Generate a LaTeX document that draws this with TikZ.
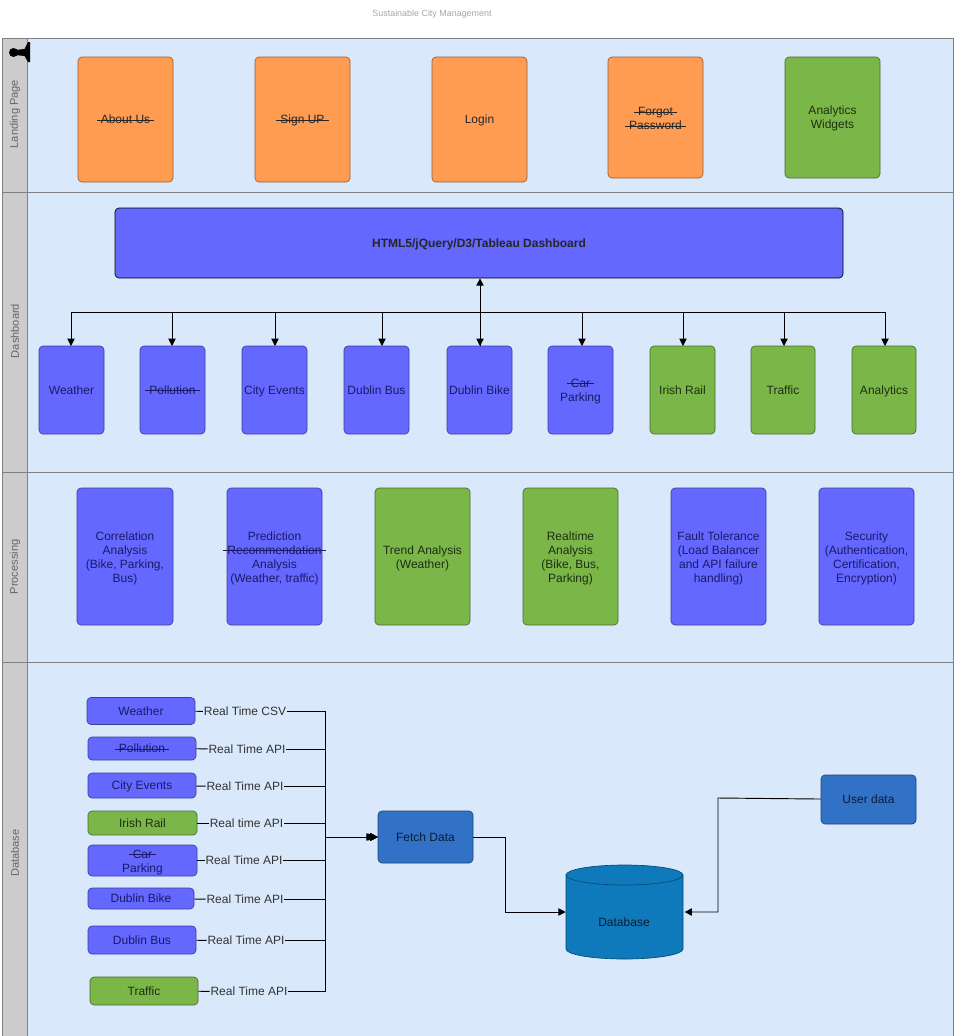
\documentclass[tikz,border=0pt]{standalone}
\usepackage{fontspec}
\setmainfont{Liberation Sans}
\usetikzlibrary{arrows.meta}

\definecolor{lanefill}{HTML}{DAE8FC}
\definecolor{headfill}{HTML}{CCCCCC}
\definecolor{laneline}{HTML}{7F8084}
\definecolor{orangebox}{HTML}{FF9C52}
\definecolor{greenbox}{HTML}{7AB648}
\definecolor{violetbox}{HTML}{6468FF}
\definecolor{bluebox}{HTML}{3172C6}
\definecolor{dbblue}{HTML}{0F7ABB}
\definecolor{violettext}{HTML}{1A1A66}
\definecolor{greentext}{HTML}{1F2E12}
\definecolor{bluetext}{HTML}{0C1D32}

\newsavebox{\strikebox}
\newcommand{\struck}[1]{\sbox{\strikebox}{#1}\rlap{\kern-3pt\rule[2.6pt]{\dimexpr\wd\strikebox+6pt\relax}{0.6pt}}\usebox{\strikebox}}
\newcommand{\lowered}{\rule{0pt}{9.6pt}}
\newcommand{\loweredless}{\rule{0pt}{8.1pt}}

\tikzset{
  card/.style={draw=#1!60!black, rounded corners=3pt, align=center, font=\fontsize{9}{10.5}\selectfont, inner sep=0pt, line width=0.5pt},
  orangecard/.style={card=orangebox, fill=orangebox, text=black!85},
  greencard/.style={card=greenbox, fill=greenbox, text=greentext},
  violetcard/.style={card=violetbox, fill=violetbox, text=violettext},
  bluecard/.style={card=bluebox, fill=bluebox, text=bluetext},
  oneline/.style={text height=6.5pt, text depth=0pt},
  feed/.style={oneline, font=\fontsize{9}{10.5}\selectfont, text=black!80, inner sep=0.5pt},
  lanehead/.style={rotate=90, font=\fontsize{8.3}{10}\selectfont, text=black!60},
  link/.style={draw=black, line width=0.7pt, -{Triangle[length=5.5pt,width=5.5pt]}},
  plain/.style={draw=black, line width=0.7pt}
}

\begin{document}
\begin{tikzpicture}[x=0.75pt, y=-0.75pt]

\useasboundingbox (0,0) rectangle (954,1036);

% swimlanes
\draw[laneline, fill=lanefill, line width=0.7pt] (2,38) rectangle (953,1040);
\draw[laneline, fill=headfill, line width=0.7pt] (2,38) rectangle (27,1040);
\draw[laneline, line width=0.7pt] (2,192) -- (953,192);
\draw[laneline, line width=0.7pt] (2,472) -- (953,472);
\draw[laneline, line width=0.7pt] (2,662) -- (953,662);

\node[font=\fontsize{6.7}{8}\selectfont, text=black!35] at (432,14) (title) {Sustainable City Management};
\node[lanehead] at (15,114) (lane1) {Landing Page};
\node[lanehead] at (15,331) (lane2) {Dashboard};
\node[lanehead] at (15,567) (lane3) {Processing};
\node[lanehead] at (15,853) (lane4) {Database};

% the pin on the first lane
\fill[black] (13.5,52.5) ellipse (4.5 and 4.5);
\fill[black] (30,42) -- (30,62) -- (28,62) -- (24.5,56) -- (15,55) -- (15,50) -- (24.5,49) -- (28,42) -- cycle;

% landing page
\node[orangecard, oneline, minimum width=71.25pt, minimum height=93.75pt] at (125.5,119.5) (about) {\struck{About Us}};
\node[orangecard, oneline, minimum width=71.25pt, minimum height=93.75pt] at (302.5,119.5) (signup) {\struck{Sign UP}};
\node[orangecard, oneline, minimum width=71.25pt, minimum height=93.75pt] at (479.5,119.5) (login) {Login};
\node[orangecard, minimum width=71.25pt, minimum height=90.75pt] at (655.5,117.5) (forgot) {\loweredless\struck{Forgot}\\\struck{Password}};
\node[greencard, minimum width=71.25pt, minimum height=90.75pt] at (832.5,117.5) (widgets) {\loweredless Analytics\\Widgets};

% dashboard
\node[card=black, oneline, fill=violetbox, draw=black, text=black!85, minimum width=546pt, minimum height=52.5pt, font=\fontsize{9}{10.5}\selectfont\bfseries] at (479,243) (dash) {HTML5/jQuery/D3/Tableau Dashboard};

\node[violetcard, oneline, minimum width=48.75pt, minimum height=66pt] at (71.5,390) (dweather) {Weather};
\node[violetcard, oneline, minimum width=48.75pt, minimum height=66pt] at (172.5,390) (dpollution) {\struck{Pollution}};
\node[violetcard, oneline, minimum width=48.75pt, minimum height=66pt] at (274.5,390) (devents) {City Events};
\node[violetcard, oneline, minimum width=48.75pt, minimum height=66pt] at (376.5,390) (dbus) {Dublin Bus};
\node[violetcard, oneline, minimum width=48.75pt, minimum height=66pt] at (479.5,390) (dbike) {Dublin Bike};
\node[violetcard, minimum width=48.75pt, minimum height=66pt] at (580.5,390) (dcar) {\loweredless\struck{Car}\\Parking};
\node[greencard, oneline, minimum width=48.75pt, minimum height=66pt] at (682.5,390) (drail) {Irish Rail};
\node[greencard, oneline, minimum width=48pt, minimum height=66pt] at (783,390) (dtraffic) {Traffic};
\node[greencard, oneline, minimum width=48pt, minimum height=66pt] at (884,390) (danalytics) {Analytics};

\coordinate (hub) at (480,312);
\draw[link] (dbike.north) ++(0.5,0) -- (dash.south -| hub);
\draw[link] (hub) -| (71,346);
\draw[link] (hub) -| (172,346);
\draw[link] (hub) -| (275,346);
\draw[link] (hub) -| (382,346);
\draw[link] (hub) -- (480,346);
\draw[link] (hub) -| (582,346);
\draw[link] (hub) -| (683,346);
\draw[link] (hub) -| (784,346);
\draw[link] (hub) -| (885,346);

% processing
\node[violetcard, minimum width=72pt, minimum height=102.75pt] at (125,556.5) (corr) {\lowered Correlation\\Analysis\\(Bike, Parking,\\Bus)};
\node[violetcard, minimum width=71.25pt, minimum height=102.75pt] at (274.5,556.5) (pred) {\lowered Prediction\\\struck{Recommendation}\\Analysis\\(Weather, traffic)};
\node[greencard, minimum width=71.25pt, minimum height=102.75pt] at (422.5,556.5) (trend) {\lowered Trend Analysis\\(Weather)};
\node[greencard, minimum width=71.25pt, minimum height=102.75pt] at (570.5,556.5) (real) {\lowered Realtime\\Analysis\\(Bike, Bus,\\Parking)};
\node[violetcard, minimum width=71.25pt, minimum height=102.75pt] at (718.5,556.5) (fault) {\lowered Fault Tolerance\\(Load Balancer\\and API failure\\handling)};
\node[violetcard, minimum width=71.25pt, minimum height=102.75pt] at (866.5,556.5) (secure) {\lowered Security\\(Authentication,\\Certification,\\Encryption)};

% database
\node[violetcard, oneline, minimum width=81pt, minimum height=20.25pt] at (141,711) (sweather) {Weather};
\node[violetcard, oneline, minimum width=81pt, minimum height=17.25pt] at (142,748.5) (spollution) {\struck{Pollution}};
\node[violetcard, oneline, minimum width=81pt, minimum height=18.75pt] at (142,785.5) (sevents) {City Events};
\node[greencard, oneline, minimum width=81.75pt, minimum height=18pt] at (142.5,823) (srail) {Irish Rail};
\node[violetcard, minimum width=81.75pt, minimum height=23.25pt] at (142.5,860.5) (scar) {\lowered\struck{Car}\\Parking};
\node[violetcard, oneline, minimum width=79.5pt, minimum height=15.75pt] at (141,898.5) (sbike) {Dublin Bike};
\node[violetcard, oneline, minimum width=81pt, minimum height=21pt] at (142,940) (sbus) {Dublin Bus};
\node[greencard, oneline, minimum width=81pt, minimum height=21pt] at (144,991) (straffic) {Traffic};

\node[feed] at (245,711.5) (lweather) {Real Time CSV};
\node[feed] at (247,749) (lpollution) {Real Time API};
\node[feed] at (245,786.5) (levents) {Real Time API};
\node[feed] at (246.5,823) (lrail) {Real time API};
\node[feed] at (244,860.5) (lcar) {Real Time API};
\node[feed] at (245,899.5) (lbike) {Real Time API};
\node[feed] at (246,940.5) (lbus) {Real Time API};
\node[feed] at (249,991.5) (ltraffic) {Real Time API};

\node[bluecard, oneline, minimum width=71.25pt, minimum height=39pt] at (425.5,837) (fetch) {Fetch Data};
\node[bluecard, oneline, minimum width=71.25pt, minimum height=36.75pt] at (868.5,799.5) (user) {User data};

\fill[dbblue] (566,875) -- (566,949) arc[start angle=180, end angle=0, x radius=58.5, y radius=10] -- (683,875) -- cycle;
\draw[dbblue!60!black, line width=0.5pt] (566,875) -- (566,949) arc[start angle=180, end angle=0, x radius=58.5, y radius=10] -- (683,875);
\draw[dbblue!60!black, fill=dbblue, line width=0.5pt] (624.5,875) ellipse (58.5 and 10);
\node[oneline, text=bluetext, inner sep=0pt, minimum width=87.75pt, minimum height=70.5pt, font=\fontsize{9}{10.5}\selectfont] at (624.5,912) (store) {};
\node[oneline, text=bluetext, font=\fontsize{9}{10.5}\selectfont] at (624,922) (storetext) {Database};

\coordinate (trunk) at (325,837);

\draw[plain] (sweather) -- (lweather);
\draw[plain] (spollution) -- (lpollution);
\draw[plain] (sevents) -- (levents);
\draw[plain] (srail) -- (lrail);
\draw[plain] (scar) -- (lcar);
\draw[plain] (sbike) -- (lbike);
\draw[plain] (sbus) -- (lbus);
\draw[plain] (straffic) -- (ltraffic);

\draw[link] (lweather) -| (trunk) -- (fetch);
\draw[link] (lpollution) -| (trunk) -- (fetch);
\draw[link] (levents) -| (trunk) -- (fetch);
\draw[link] (lrail) -| (trunk) -- (fetch);
\draw[link, shorten >=2pt] (lcar) -| (trunk) -- (fetch);
\draw[link, shorten >=3pt] (lbike) -| (trunk) -- (fetch);
\draw[link] (lbus) -| (trunk) -- (fetch);
\draw[link] (ltraffic) -| (trunk) -- (fetch);

\coordinate (fetchdrop) at (505,837);
\coordinate (userdrop) at (718,798);
\draw[link] (fetch) -- (fetchdrop) |- (store.west);
\draw[link, shorten >=1pt] (user) -- (userdrop) |- (store.east);

\end{tikzpicture}
\end{document}
